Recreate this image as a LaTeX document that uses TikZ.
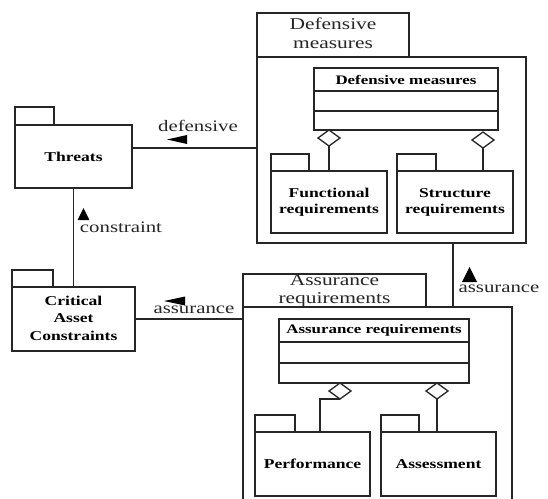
\documentclass[tikz,border=0pt]{standalone}
\usepackage{fontspec}
\setmainfont{Liberation Serif}
\usetikzlibrary{shapes.geometric}
% horizontally widened lettering
\newcommand{\wide}[1]{\scalebox{1.3}[1]{#1}}
\newcommand{\lines}[1]{\wide{\begin{tabular}{@{}c@{}}#1\end{tabular}}}
\tikzset{
  ln/.style={line width=1.3pt, draw=black!85},
  box/.style={ln, rectangle, inner sep=0pt, outer sep=0pt, fill=white},
  pkgbody/.style={box, font=\fontsize{13.5}{16.5}\selectfont\bfseries},
  pkgtab/.style={box, anchor=south west},
  wedge/.style={fill=black},
  agg/.style={ln, diamond, shape aspect=1.4, fill=white, inner sep=0pt, minimum width=22pt, minimum height=16pt, outer sep=0pt, anchor=north},
  lbl/.style={inner sep=0pt, font=\fontsize{16}{18}\selectfont, text=black!85},
  ttl/.style={inner sep=0pt, font=\fontsize{13}{15}\selectfont\bfseries},
  tabtxt/.style={inner sep=0pt, font=\fontsize{16.5}{19}\selectfont, text=black!85},
}
\begin{document}
\begin{tikzpicture}[x=1pt, y=-1pt]
\useasboundingbox[fill=white] (0,0) rectangle (548,498);

% ---------- Threats ----------
\node[pkgbody, minimum width=117pt, minimum height=63pt] (threats) at (73.5,156.5) {\wide{Threats}};
\node[pkgtab, minimum width=39pt, minimum height=18pt] (threatsTab) at (threats.north west) {};

% ---------- Critical Asset Constraints ----------
\node[pkgbody, minimum width=123pt, minimum height=64pt, font=\fontsize{13.5}{17.5}\selectfont\bfseries] (critical) at (73.5,319) {\lines{Critical\\Asset\\Constraints}};
\node[pkgtab, minimum width=41pt, minimum height=17pt] (criticalTab) at (critical.north west) {};

% ---------- Defensive measures package ----------
\node[box, minimum width=269pt, minimum height=186pt] (dmPkg) at (391.5,150) {};
\node[pkgtab, minimum width=152pt, minimum height=44pt] (dmTab) at (dmPkg.north west) {};
\node[tabtxt] (dmTabText) at (dmTab.center) {\lines{Defensive\\measures}};

\node[box, minimum width=184pt, minimum height=62pt] (dmClass) at (406,99) {};
\node[ttl] (dmTitle) at (406,79.5) {\wide{Defensive measures}};
\draw[ln] ([yshift=8pt]dmClass.west) -- ([yshift=8pt]dmClass.east);
\draw[ln] ([yshift=-12pt]dmClass.west) -- ([yshift=-12pt]dmClass.east);

\node[agg] (dmAggL) at ([xshift=-77pt]dmClass.south) {};
\node[agg] (dmAggR) at ([xshift=77pt, yshift=-2pt]dmClass.south) {};

\node[pkgbody, minimum width=116pt, minimum height=62pt, font=\fontsize{13.5}{16}\selectfont\bfseries] (func) at (329,202) {\lines{Functional\\requirements}};
\node[pkgtab, minimum width=38pt, minimum height=17pt] (funcTab) at (func.north west) {};
\node[pkgbody, minimum width=116pt, minimum height=62pt, font=\fontsize{13.5}{16}\selectfont\bfseries] (struct) at (455,202) {\lines{Structure\\requirements}};
\node[pkgtab, minimum width=39pt, minimum height=17pt] (structTab) at (struct.north west) {};

\draw[ln] (dmAggL.south) -- (dmAggL.south |- func.north);
\draw[ln] (dmAggR.south) -- (dmAggR.south |- struct.north);

% ---------- Assurance requirements package (runs past the lower edge) ----------
\node[box, minimum width=269pt, minimum height=195pt] (arPkg) at (377.5,404.5) {};
\node[pkgtab, minimum width=183pt, minimum height=33pt] (arTab) at (arPkg.north west) {};
\node[tabtxt, font=\fontsize{16.5}{18}\selectfont] (arTabText) at ([yshift=-0.5pt]arTab.center) {\lines{Assurance\\requirements}};

\node[box, minimum width=190pt, minimum height=64pt] (arClass) at (374,351) {};
\node[ttl] (arTitle) at (374,330.5) {\wide{Assurance requirements}};
\draw[ln] ([yshift=9pt]arClass.west) -- ([yshift=9pt]arClass.east);
\draw[ln] ([yshift=-12pt]arClass.west) -- ([yshift=-12pt]arClass.east);

\node[agg] (arAggL) at ([xshift=-34pt]arClass.south) {};
\node[agg] (arAggR) at ([xshift=63pt]arClass.south) {};

\node[pkgbody, minimum width=115pt, minimum height=64pt] (perf) at (312.5,464) {\wide{Performance}};
\node[pkgtab, minimum width=40pt, minimum height=17pt] (perfTab) at (perf.north west) {};
\node[pkgbody, minimum width=115pt, minimum height=64pt] (assess) at (438.5,464) {\wide{Assessment}};
\node[pkgtab, minimum width=38pt, minimum height=17pt] (assessTab) at (assess.north west) {};

\draw[ln] (arAggL.south) -| ([xshift=7.5pt]perf.north);
\draw[ln] (arAggR.south) -- (arAggR.south |- assess.north);

% ---------- dependencies between packages ----------
\draw[ln] ([yshift=8.5pt]threats.east) -- ([yshift=8.5pt]threats.east -| dmPkg.west);
\node[lbl] (lblDef) at (198,126) {\wide{defensive}};
\fill[wedge] (167,139.5) -- (187,135) -- (187,144) -- cycle;

\draw[ln] (threats.south) -- (threats.south |- critical.north);
\node[lbl] (lblCons) at (121,227) {\wide{constraint}};
\fill[wedge] (83.5,208) -- (77.5,220) -- (89.5,220) -- cycle;

\draw[ln] (critical.east) -- (critical.east -| arPkg.west);
\node[lbl] (lblAssL) at (194,310) {\wide{assurance}};
\fill[wedge] (164,301) -- (185,296.5) -- (185,305.5) -- cycle;

\draw[ln] ([xshift=61.5pt]dmPkg.south) -- ([xshift=61.5pt]dmPkg.south |- arPkg.north);
\node[lbl] (lblAssR) at (499,289) {\wide{assurance}};
\fill[wedge] (469.5,267) -- (462,282) -- (477,282) -- cycle;
\end{tikzpicture}
\end{document}
